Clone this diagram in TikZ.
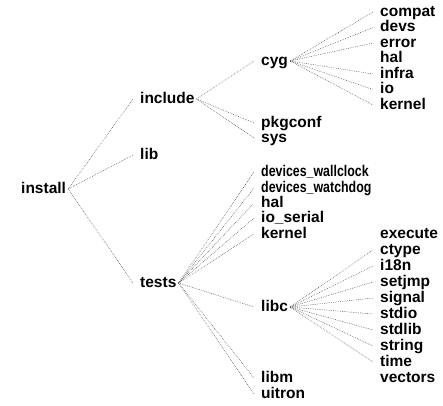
\documentclass[tikz,border=0pt]{standalone}
\usepackage{fontspec}
\setmainfont{Liberation Sans}
\begin{document}
\begin{tikzpicture}[x=1pt,y=-1pt,
  lbl/.style={anchor=west, inner sep=0pt, text height=8pt, text depth=0pt,
    font=\fontsize{15.5}{18}\selectfont\bfseries},
  link/.style={line width=0.45pt, black!75, dash pattern=on 0.7pt off 1.1pt}]
\useasboundingbox (0,0) rectangle (443,405);
% level 0
\node[lbl] (install) at (21,189) {install};
% level 1
\node[lbl] (include) at (140,99) {include};
\node[lbl] (lib) at (140,155) {lib};
\node[lbl] (tests) at (140,283) {tests};
% level 2
\node[lbl] (cyg) at (261,61) {cyg};
\node[lbl] (pkgconf) at (261,123) {pkgconf};
\node[lbl] (sys) at (261,138) {sys};
\node[lbl] (wallclock) at (261,172) {\scalebox{0.8}[1]{devices\_wallclock}};
\node[lbl] (watchdog) at (261,188) {\scalebox{0.8}[1]{devices\_watchdog}};
\node[lbl] (thal) at (261,203) {hal};
\node[lbl] (ioserial) at (261,218) {io\_serial};
\node[lbl] (tkernel) at (261,234) {kernel};
\node[lbl] (libc) at (261,307) {libc};
\node[lbl] (libm) at (261,378) {libm};
\node[lbl] (uitron) at (261,394) {uitron};
% level 3 (cyg)
\node[lbl] (compat) at (380,12) {compat};
\node[lbl] (devs) at (380,27.5) {devs};
\node[lbl] (error) at (380,43) {error};
\node[lbl] (cyghal) at (380,58.5) {hal};
\node[lbl] (infra) at (380,74) {infra};
\node[lbl] (io) at (380,89.5) {io};
\node[lbl] (cygkernel) at (380,105) {kernel};
% level 3 (libc)
\node[lbl] (execute) at (380,234) {execute};
\node[lbl] (ctype) at (380,250) {ctype};
\node[lbl] (ieighteen) at (380,266) {i18n};
\node[lbl] (setjmp) at (380,282) {setjmp};
\node[lbl] (signal) at (380,298) {signal};
\node[lbl] (stdio) at (380,314) {stdio};
\node[lbl] (stdlib) at (380,330) {stdlib};
\node[lbl] (string) at (380,346) {string};
\node[lbl] (time) at (380,362) {time};
\node[lbl] (vectors) at (380,378) {vectors};
% connectors
\foreach \p/\c in {install/include, install/lib, install/tests,
  include/cyg, include/pkgconf, include/sys,
  cyg/compat, cyg/devs, cyg/error, cyg/infra, cyg/io, cyg/cygkernel,
  tests/wallclock, tests/watchdog, tests/thal, tests/ioserial, tests/tkernel,
  tests/libc, tests/libm, tests/uitron,
  libc/ctype, libc/ieighteen, libc/setjmp, libc/signal, libc/stdio,
  libc/stdlib, libc/string, libc/time}
  \draw[link] ([xshift=2pt]\p.east) -- ([xshift=-7pt]\c.west);
\end{tikzpicture}
\end{document}
